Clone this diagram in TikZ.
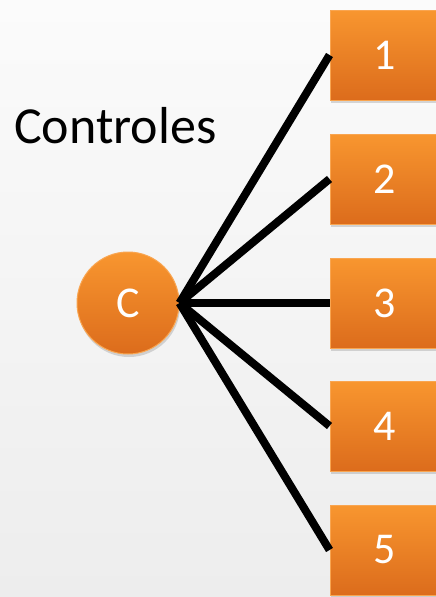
\documentclass[tikz,border=0pt]{standalone}
\usepackage{fontspec}
\setmainfont{Carlito}
\usetikzlibrary{shadows}
\definecolor{orangetop}{HTML}{F8962F}
\definecolor{orangebot}{HTML}{DC6C1C}
\definecolor{orangeedge}{HTML}{F9A550}
\definecolor{bgtop}{HTML}{FBFBFB}
\definecolor{bgbot}{HTML}{EDEDED}
\begin{document}
\begin{tikzpicture}[x=1pt,y=1pt,
    ctrlnode/.style={circle,minimum size=102pt,inner sep=0pt,
      top color=orangetop,bottom color=orangebot,draw=orangeedge,line width=1pt,
      drop shadow={shadow xshift=1pt,shadow yshift=-3pt,opacity=0.3},
      text=white,font=\fontsize{44}{44}\selectfont},
    boxnode/.style={rectangle,minimum width=110pt,minimum height=90pt,inner sep=0pt,
      top color=orangetop,bottom color=orangebot,draw=orangeedge,line width=1pt,
      drop shadow={shadow xshift=1pt,shadow yshift=-3pt,opacity=0.3},
      text=white,font=\fontsize{44}{44}\selectfont},
    link/.style={line width=8pt,black}]
  \useasboundingbox[top color=bgtop,bottom color=bgbot] (0,0) rectangle (436,-597);
  \node[anchor=base west,inner sep=0pt,font=\fontsize{52}{52}\selectfont] (title) at (14,-143) {Controles};
  \node[ctrlnode] (ctrl) at (128,-303) {C};
  \foreach \i/\y in {1/55, 2/179, 3/303, 4/426, 5/550}
  {
    \node[boxnode] (b\i) at (385,-\y) {\i};
    \draw[link] (ctrl.east) -- (b\i.west);
  }
\end{tikzpicture}
\end{document}
